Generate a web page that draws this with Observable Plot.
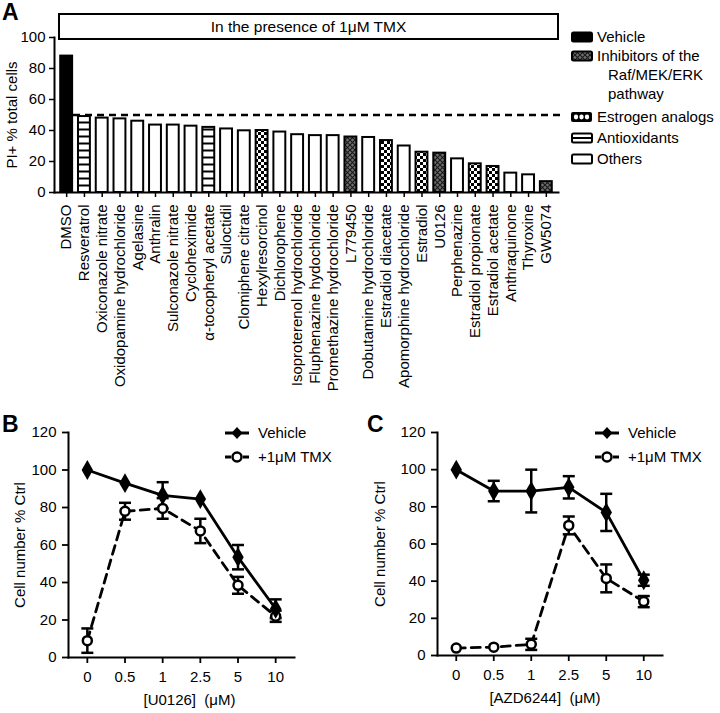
<!DOCTYPE html>
<html><head><meta charset="utf-8">
<script src="https://cdn.jsdelivr.net/npm/d3@7"></script>
<script src="https://cdn.jsdelivr.net/npm/@observablehq/plot@0.6"></script>
<style>
body{margin:0;background:#fff;font-family:"Liberation Sans",Arial,Helvetica,sans-serif;}
#root{position:relative;width:720px;height:713px;overflow:hidden;background:#fff;}
#root > *{position:absolute;}
.plabel{font-weight:bold;font-size:23px;line-height:1;}
</style></head><body>
<svg width="0" height="0" style="position:absolute">
<defs>
 <pattern id="p-inhib" patternUnits="userSpaceOnUse" width="5" height="5">
   <rect width="5" height="5" fill="#707070"/>
   <path d="M0,0 L5,5 M5,0 L0,5" stroke="#1a1a1a" stroke-width="1.2"/>
 </pattern>
 <pattern id="p-estro" patternUnits="userSpaceOnUse" width="6" height="6">
   <rect width="6" height="6" fill="#fff"/>
   <rect width="3" height="3" fill="#000"/>
   <rect x="3" y="3" width="3" height="3" fill="#000"/>
 </pattern>
 <pattern id="p-anti" patternUnits="userSpaceOnUse" width="6" height="7">
   <rect width="6" height="7" fill="#fff"/>
   <rect y="2.5" width="6" height="2" fill="#000"/>
 </pattern>
</defs></svg>
<div id="root"></div>
<script>
// ---------- Panel A data ----------
const names = ["DMSO","Resveratrol","Oxiconazole nitrate","Oxidopamine hydrochloride","Agelasine","Anthralin",
  "Sulconazole nitrate","Cycloheximide","α-tocopheryl acetate","Suloctidil","Clomiphene citrate","Hexylresorcinol",
  "Dichlorophene","Isoproterenol hydrochloride","Fluphenazine hydochloride","Promethazine hydrochloride","L779450",
  "Dobutamine hydrochloride","Estradiol diacetate","Apomorphine hydrochloride","Estradiol","U0126","Perphenazine",
  "Estradiol propionate","Estradiol acetate","Anthraquinone","Thyroxine","GW5074"];
const values = [88, 49, 48, 47.5, 46, 43.5, 43.5, 42.8, 42, 41, 39.8, 40, 39, 37.3, 36.7, 36.7, 35.8,
  35.5, 33.5, 30, 26, 25.4, 21.7, 18.5, 16.8, 12.5, 11.4, 7];
const groups = ["Vehicle","Antioxidants","Others","Others","Others","Others","Others","Others","Antioxidants","Others",
  "Others","Estrogen analogs","Others","Others","Others","Others","Inhibitors","Others","Estrogen analogs","Others",
  "Estrogen analogs","Inhibitors","Others","Estrogen analogs","Estrogen analogs","Others","Others","Inhibitors"];
const groupNames = ["Vehicle","Inhibitors","Estrogen analogs","Antioxidants","Others"];
const groupFills = ["#000","url(#p-inhib)","url(#p-estro)","url(#p-anti)","#fff"];
const yTicksA = [0,20,40,60,80,100];
const threshold = [50];

// ---------- Panels B and C data ----------
const doses = ["0","0.5","1","2.5","5","10"];
const yTicksBC = [0,20,40,60,80,100,120];
const vehB = [100, 93, 86.5, 84.5, 53.5, 26];
const vehBErr = [0, 0, 7, 0, 6.5, 5];
const tmxB = [9, 78, 79.5, 67.5, 38.5, 22];
const tmxBErr = [6.5, 4.5, 5.5, 6.5, 4.5, 3];
const vehC = [100, 88.5, 88.5, 90.5, 77, 40.5];
const vehCErr = [0, 5.5, 11.5, 6, 10, 3];
const tmxC = [4, 4.5, 6, 70, 41.5, 29];
const tmxCErr = [0, 0, 3, 4.8, 7.5, 3];

const FONT = '"Liberation Sans", Arial, Helvetica, sans-serif';
const root = document.getElementById("root");

// ---------- Panel A ----------
const dataA = names.map((n, i) => ({name: n, value: values[i], group: groups[i]}));
const plotA = Plot.plot({
  width: 720, height: 410,
  marginLeft: 54, marginRight: 162, marginTop: 37, marginBottom: 218,
  style: {fontFamily: FONT, fontSize: "15px", color: "#000", background: "transparent"},
  x: {domain: names, paddingInner: 0.33, paddingOuter: 0.35, round: false, label: null},
  y: {domain: [0, 100], label: null},
  color: {domain: groupNames, range: groupFills},
  marks: [
    Plot.barY(dataA, {x: "name", y: "value", fill: "group", stroke: "#000", strokeWidth: 2}),
    Plot.ruleY(threshold, {stroke: "#000", strokeWidth: 2.5, strokeDasharray: "7,5", insetLeft: 19, insetRight: -2}),
    Plot.frame({anchor: "left", strokeWidth: 2}),
    Plot.frame({anchor: "bottom", strokeWidth: 2}),
    Plot.axisY({ticks: yTicksA, tickSize: 5, tickPadding: 4, strokeWidth: 1.5, fontSize: 15, label: null}),
    Plot.axisX({tickRotate: -90, tickSize: 5, tickPadding: 7, strokeWidth: 1.5, fontSize: 15, label: null}),
    Plot.text(["PI+ % total cells"], {text: d => d, frameAnchor: "left", textAnchor: "middle", rotate: -90, dx: -42, fontSize: 15})
  ]
});
plotA.style.left = "0px"; plotA.style.top = "0px";
root.appendChild(plotA);

// title box
const box = document.createElement("div");
box.textContent = "In the presence of 1\u03bcM TMX";
Object.assign(box.style, {left: "58px", top: "13px", width: "497px", height: "23px", border: "2px solid #000",
  fontSize: "15.5px", lineHeight: "23px", textAlign: "center", fontFamily: FONT, background: "#fff"});
root.appendChild(box);

// legend A
const legA = d3.select(root).append("svg").attr("width", 160).attr("height", 150)
  .style("left", "560px").style("top", "25px").style("font-family", FONT).style("font-size", "15px");
const legItems = [
  {g: 0, lines: ["Vehicle"], base: 17},
  {g: 1, lines: ["Inhibitors of the", "Raf/MEK/ERK", "pathway"], base: 36},
  {g: 2, lines: ["Estrogen analogs"], base: 97},
  {g: 3, lines: ["Antioxidants"], base: 118},
  {g: 4, lines: ["Others"], base: 139}
];
legItems.forEach(it => {
  const top = it.base - 10;
  const fill = groupFills[it.g];
  if (it.g === 2) {
    legA.append("rect").attr("x", 11).attr("y", top).attr("width", 21).attr("height", 10).attr("rx", 2).attr("fill", "#000");
    [16, 21.5, 27].forEach(cx => legA.append("ellipse").attr("cx", cx).attr("cy", top + 5).attr("rx", 2.2).attr("ry", 2.4)
      .attr("fill", "#fff"));
  } else if (it.g === 3) {
    legA.append("rect").attr("x", 12).attr("y", top + 0.5).attr("width", 20).attr("height", 9).attr("rx", 1.5)
      .attr("fill", "#fff").attr("stroke", "#000").attr("stroke-width", 2);
    legA.append("line").attr("x1", 12).attr("x2", 32).attr("y1", top + 5).attr("y2", top + 5).attr("stroke", "#000").attr("stroke-width", 2);
  } else {
    legA.append("rect").attr("x", 12).attr("y", top + 0.5).attr("width", 20).attr("height", 9).attr("rx", 1.5)
      .attr("fill", fill).attr("stroke", "#000").attr("stroke-width", 2);
  }
  it.lines.forEach((t, j) => {
    legA.append("text").attr("x", j === 0 ? 37 : 48).attr("y", it.base + j * 19).text(t);
  });
});

// ---------- Panels B and C ----------
const capSymbol = {draw(ctx) { ctx.moveTo(-6, 0); ctx.lineTo(6, 0); }};
function linePanel(cfg) {
  const veh = doses.map((d, i) => ({dose: d, v: cfg.veh[i], e: cfg.vehErr[i]}));
  const tmx = doses.map((d, i) => ({dose: d, v: cfg.tmx[i], e: cfg.tmxErr[i]}));
  const err = veh.concat(tmx).filter(d => d.e > 0);
  const svg = Plot.plot({
    width: 360, height: 313,
    marginLeft: cfg.ml, marginRight: cfg.mr, marginTop: 32, marginBottom: cfg.mb,
    style: {fontFamily: FONT, fontSize: "15px", color: "#000", background: "transparent"},
    x: {type: "point", domain: doses, padding: 0.5, round: false, label: null},
    y: {domain: [0, 120], label: null},
    marks: [
      Plot.line(tmx, {x: "dose", y: "v", stroke: "#000", strokeWidth: 2.8, strokeDasharray: "9,6"}),
      Plot.line(veh, {x: "dose", y: "v", stroke: "#000", strokeWidth: 2.8}),
      Plot.ruleX(err, {x: "dose", y1: d => d.v - d.e, y2: d => d.v + d.e, stroke: "#000", strokeWidth: 2.5}),
      Plot.dot(err, {x: "dose", y: d => d.v + d.e, symbol: capSymbol, fill: "none", stroke: "#000", strokeWidth: 2.5}),
      Plot.dot(err, {x: "dose", y: d => d.v - d.e, symbol: capSymbol, fill: "none", stroke: "#000", strokeWidth: 2.5}),
      Plot.dot(tmx, {x: "dose", y: "v", r: 4.5, fill: "#fff", stroke: "#000", strokeWidth: 2.5}),
      Plot.dot(veh, {x: "dose", y: "v", symbol: "diamond", r: 6, fill: "#000"}),
      Plot.frame({anchor: "left", strokeWidth: 2}),
      Plot.frame({anchor: "bottom", strokeWidth: 2}),
      Plot.axisY({ticks: yTicksBC, tickSize: 6, tickPadding: 6, strokeWidth: 1.8, fontSize: 15, label: null}),
      Plot.axisX({tickSize: 6, tickPadding: 8, strokeWidth: 1.8, fontSize: 15, label: null}),
      Plot.text(["Cell number % Ctrl"], {text: d => d, frameAnchor: "left", textAnchor: "middle", rotate: -90, dx: cfg.ytdx, fontSize: 15}),
      Plot.text([cfg.xLabel], {text: d => d, frameAnchor: "bottom", textAnchor: "middle", dy: 47, dx: cfg.xtdx, fontSize: 15})
    ]
  });
  svg.style.left = cfg.left + "px"; svg.style.top = "400px";
  root.appendChild(svg);
  // legend
  const g = d3.select(svg).append("g").attr("text-anchor", "start")
    .style("font-family", FONT).style("font-size", "15px");
  const x0 = cfg.lx, x1 = cfg.lx + 24, cx = (x0 + x1) / 2;
  g.append("line").attr("x1", x0).attr("x2", x1).attr("y1", 33).attr("y2", 33).attr("stroke", "#000").attr("stroke-width", 3);
  g.append("path").attr("d", `M${cx},27 L${cx + 5.5},33 L${cx},39 L${cx - 5.5},33Z`).attr("fill", "#000");
  g.append("text").attr("x", x1 + 9).attr("y", 38).text("Vehicle");
  g.append("line").attr("x1", x0).attr("x2", x0 + 6).attr("y1", 57).attr("y2", 57).attr("stroke", "#000").attr("stroke-width", 3);
  g.append("line").attr("x1", x1 - 6).attr("x2", x1).attr("y1", 57).attr("y2", 57).attr("stroke", "#000").attr("stroke-width", 3);
  g.append("circle").attr("cx", cx).attr("cy", 57).attr("r", 4.5).attr("fill", "#fff").attr("stroke", "#000").attr("stroke-width", 2.5);
  g.append("text").attr("x", x1 + 9).attr("y", 62).text("+1\u03bcM TMX");
}

linePanel({veh: vehB, vehErr: vehBErr, tmx: tmxB, tmxErr: tmxBErr, xLabel: "[U0126]\u00a0\u00a0(\u03bcM)",
  left: 0, ml: 68, mr: 66, mb: 56, ytdx: -48, xtdx: 8, lx: 225});
linePanel({veh: vehC, vehErr: vehCErr, tmx: tmxC, tmxErr: tmxCErr, xLabel: "[AZD6244]\u00a0\u00a0(\u03bcM)",
  left: 360, ml: 77, mr: 58, mb: 58, ytdx: -57, xtdx: -5, lx: 235});

// panel letters
[["A", 2, 1], ["B", 2, 413], ["C", 367, 413]].forEach(([t, x, y]) => {
  const d = document.createElement("div");
  d.className = "plabel"; d.textContent = t;
  d.style.left = x + "px"; d.style.top = y + "px"; d.style.fontFamily = FONT;
  root.appendChild(d);
});
</script>
</body></html>
